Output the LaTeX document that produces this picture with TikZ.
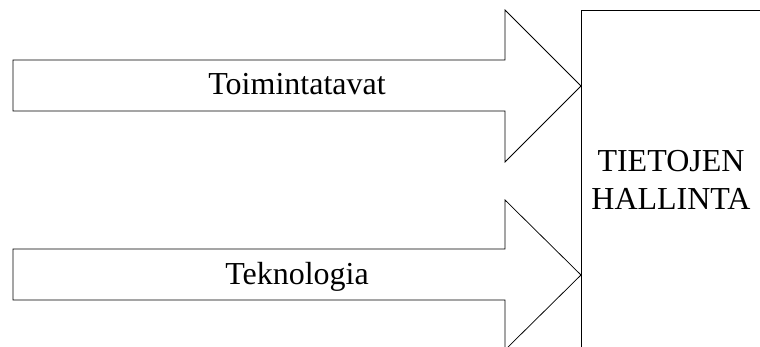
\documentclass[tikz,border=0pt]{standalone}
\usepackage{fontspec}
\setmainfont{Liberation Serif}
\begin{document}
\begin{tikzpicture}[x=1pt,y=-1pt,line width=0.75pt,
		lab/.style={font=\fontsize{32}{38}\selectfont}]
	\useasboundingbox (0,0) rectangle (760,347);
	\clip (0,0) rectangle (760,347);
		\coordinate (tipA) at (581,86);
		\coordinate (tipB) at (581,275);
			\draw (13,60)--(505,60)--(505,10)--(tipA)--(505,162)--(505,111)--(13,111)--cycle;
			\draw (13,249)--(505,249)--(505,200)--(tipB)--(505,350)--(505,300)--(13,300)--cycle;
			\draw (581,360)--(581,10)--(780,10);
		\node[lab,anchor=base] (toim) at (297,95) {Toimintatavat};
		\node[lab,anchor=base] (tekno) at (297,284) {Teknologia};
		\node[lab,align=center] (hallinta) at (671,180) {TIETOJEN\\HALLINTA};
\end{tikzpicture}
\end{document}
